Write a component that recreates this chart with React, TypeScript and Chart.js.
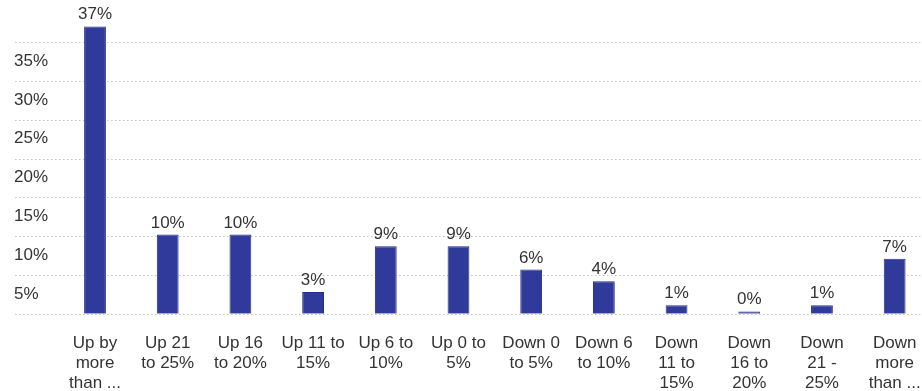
import React, { useEffect, useRef } from 'react';
import { Chart, registerables } from 'chart.js';

Chart.register(...registerables);

// ---- data ----
const categories: string[][] = [
  ['Up by', 'more', 'than ...'],
  ['Up 21', 'to 25%'],
  ['Up 16', 'to 20%'],
  ['Up 11 to', '15%'],
  ['Up 6 to', '10%'],
  ['Up 0 to', '5%'],
  ['Down 0', 'to 5%'],
  ['Down 6', 'to 10%'],
  ['Down', '11 to', '15%'],
  ['Down', '16 to', '20%'],
  ['Down', '21 -', '25%'],
  ['Down', 'more', 'than ...'],
];
const values: number[] = [37, 10.2, 10.2, 2.8, 8.7, 8.7, 5.7, 4.2, 1.1, 0.3, 1.1, 7.1];
const valueLabels: string[] = ['37%', '10%', '10%', '3%', '9%', '9%', '6%', '4%', '1%', '0%', '1%', '7%'];
const yMin = 0;
const yMax = 40;
const yStep = 5;
const hiddenTickValues: number[] = [0, 40];

const FONT = '"Liberation Sans", Arial, Helvetica, sans-serif';
const TEXT = '#333333';
const BAR = '#2f3a9a';
const BAR_BORDER = '#262f88';

const dottedGrid = {
  id: 'dottedGrid',
  beforeDatasetsDraw(chart: any) {
    const y = chart.scales.y;
    const ctx = chart.ctx;
    ctx.save();
    ctx.strokeStyle = '#c4c4c4';
    ctx.lineWidth = 1;
    ctx.setLineDash([1.5, 2.5]);
    for (const t of y.ticks) {
      if (t.value >= yMax) continue;
      const py = Math.round(y.getPixelForValue(t.value)) + 0.5;
      ctx.beginPath();
      ctx.moveTo(y.left + 1, py);
      ctx.lineTo(chart.width, py);
      ctx.stroke();
    }
    ctx.restore();
  },
};

const valueLabelPlugin = {
  id: 'valueLabels',
  afterDatasetsDraw(chart: any) {
    const ctx = chart.ctx;
    const meta = chart.getDatasetMeta(0);
    ctx.save();
    ctx.font = `17px ${FONT}`;
    ctx.fillStyle = TEXT;
    ctx.textAlign = 'center';
    ctx.textBaseline = 'alphabetic';
    meta.data.forEach((el: any, i: number) => {
      ctx.fillText(valueLabels[i], el.x, el.y - 7);
    });
    ctx.restore();
  },
};

export default function App() {
  const ref = useRef<HTMLCanvasElement | null>(null);

  useEffect(() => {
    if (!ref.current) return;
    const chart = new Chart(ref.current, {
      type: 'bar',
      data: {
        labels: categories,
        datasets: [
          {
            data: values,
            backgroundColor: BAR,
            borderColor: BAR_BORDER,
            borderWidth: 1,
            barPercentage: 0.3,
            categoryPercentage: 1,
          },
        ],
      },
      options: {
        animation: false,
        responsive: false,
        layout: { padding: { left: 14, right: 14, top: 4, bottom: 7 } },
        plugins: {
          legend: { display: false },
          tooltip: { enabled: false },
        },
        scales: {
          x: {
            grid: { display: false, drawTicks: false },
            border: { display: false },
            ticks: {
              color: TEXT,
              font: { family: FONT, size: 17, lineHeight: 1.2 },
              padding: 19,
              maxRotation: 0,
              minRotation: 0,
              autoSkip: false,
            },
          },
          y: {
            min: yMin,
            max: yMax,
            grid: { display: false, drawTicks: false },
            border: { display: false },
            afterFit: (scale: any) => {
              scale.width = 44.66;
            },
            ticks: {
              stepSize: yStep,
              color: TEXT,
              font: { family: FONT, size: 17 },
              crossAlign: 'far',
              labelOffset: 19,
              padding: 0,
              callback: (v: any) => (hiddenTickValues.includes(Number(v)) ? '' : `${v}%`),
            },
          },
        },
      },
      plugins: [dottedGrid, valueLabelPlugin],
    });
    return () => chart.destroy();
  }, []);

  return (
    <div
      style={{
        position: 'fixed',
        left: 0,
        top: 0,
        width: 922,
        height: 391,
        overflow: 'hidden',
        background: '#ffffff',
      }}
    >
      <canvas ref={ref} width={945} height={427} style={{ display: 'block', marginTop: -7 }} />
    </div>
  );
}
